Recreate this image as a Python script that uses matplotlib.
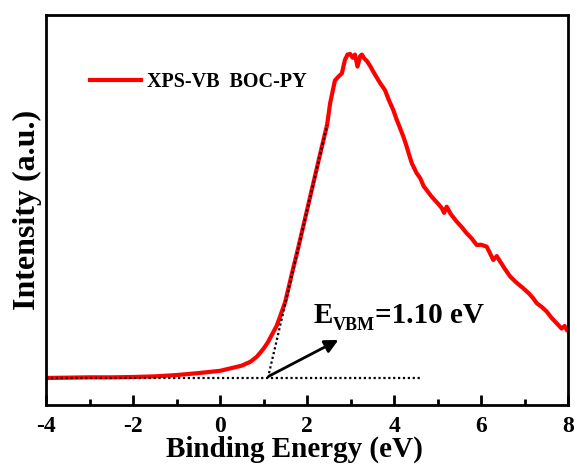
import matplotlib
matplotlib.use("Agg")
import matplotlib.pyplot as plt
from matplotlib.ticker import MultipleLocator
from matplotlib.transforms import offset_copy

plt.rcParams['font.family'] = ['Liberation Serif', 'DejaVu Serif']
plt.rcParams['font.weight'] = 'bold'
plt.rcParams['axes.unicode_minus'] = False

# Binding energy (eV) and intensity (a.u., baseline 0, peak ~100)
energy = [-4.0, -3.5, -3.0, -2.5, -2.0, -1.5, -1.0, -0.5, 0.0, 0.25, 0.5, 0.7, 0.85,
          1.0, 1.1, 1.22, 1.3, 1.38, 1.5, 1.65, 1.8, 1.95, 2.1, 2.25, 2.4, 2.46, 2.53,
          2.64, 2.72, 2.80, 2.87, 2.93, 2.99, 3.05, 3.10, 3.16, 3.22, 3.26, 3.32, 3.37,
          3.45, 3.52, 3.60, 3.68, 3.79, 3.88, 3.98, 4.06, 4.14, 4.22, 4.29, 4.35, 4.41,
          4.52, 4.60, 4.68, 4.75, 4.85, 4.95, 5.02, 5.10, 5.15, 5.21, 5.30, 5.44, 5.55,
          5.67, 5.78, 5.90, 6.00, 6.13, 6.20, 6.28, 6.36, 6.44, 6.55, 6.67, 6.80, 6.97,
          7.10, 7.20, 7.28, 7.40, 7.51, 7.62, 7.74, 7.85, 7.92, 7.97]
intensity = [0.0, 0.1, 0.2, 0.2, 0.3, 0.5, 0.9, 1.5, 2.2, 3.0, 3.8, 5.0, 6.6,
             9.0, 11.0, 14.0, 16.0, 18.9, 23.5, 32.0, 40.2, 48.8, 57.4, 66.0, 74.5, 77.8, 84.5,
             91.5, 92.7, 93.7, 97.8, 99.5, 99.7, 98.5, 99.5, 95.8, 99.0, 99.5, 98.2, 97.6,
             96.0, 94.3, 92.5, 90.7, 88.6, 85.5, 82.5, 79.5, 76.8, 74.0, 71.2, 68.5, 66.0,
             63.0, 61.5, 59.0, 57.8, 56.0, 54.5, 53.5, 52.2, 50.8, 52.7, 50.5, 48.1, 46.5,
             44.5, 43.0, 40.9, 41.0, 40.4, 38.5, 36.3, 37.5, 35.8, 33.5, 31.2, 29.5, 27.6,
             26.0, 24.5, 23.0, 21.8, 20.4, 18.5, 16.8, 15.2, 16.0, 14.8]

# Extrapolation lines
tangent_x = [1.10, 2.46]
tangent_y = [0.0, 77.8]
base_x = [-4.0, 4.6]
base_y = [0.0, 0.0]
arrow_tail = (1.13, 0.6)
arrow_head = (2.72, 11.7)
evbm_parts = ['E', 'VBM', '=1.10 eV']
legend_label = 'XPS-VB  BOC-PY'

fig = plt.figure(figsize=(5.75, 4.66), dpi=100)
ax = fig.add_axes([0.080, 0.131, 0.908, 0.837])

ax.plot(base_x, base_y, color='black', lw=1.6, linestyle=(0, (1, 1.2)), zorder=3)
ax.plot(energy, intensity, color='#ff0000', lw=3.0, label=legend_label, zorder=2)
ax.plot(tangent_x, tangent_y, color='black', lw=1.6, linestyle=(0, (1, 1.2)), zorder=3)

ax.annotate('', xy=arrow_head, xytext=arrow_tail,
            arrowprops=dict(arrowstyle='-|>', lw=2.0, color='black', mutation_scale=20,
                            shrinkA=0, shrinkB=0))

ax.set_xlim(-4, 8)
ax.set_ylim(-8.3, 111.7)
ax.xaxis.set_major_locator(MultipleLocator(2))
ax.xaxis.set_minor_locator(MultipleLocator(1))
ax.set_yticks([])
ax.tick_params(axis='x', which='major', direction='in', length=7, width=2, labelsize=17, pad=8)
ax.tick_params(axis='x', which='minor', direction='in', length=4, width=2)
ax.tick_params(top=False, right=False)
for lab in ax.get_xticklabels():
    lab.set_fontweight('bold')
for s in ax.spines.values():
    s.set_linewidth(2.0)

ax.set_xlabel('Binding Energy (eV)', fontsize=21, fontweight='bold', labelpad=0)
ax.xaxis.set_label_coords(0.475, -0.078)
ax.set_ylabel('Intensity (a.u.)', fontsize=23, fontweight='bold', labelpad=3)

leg = ax.legend(loc='center left', bbox_to_anchor=(0.085, 0.828), frameon=False,
                handlelength=2.5, handletextpad=0.3, borderpad=0, borderaxespad=0,
                prop={'family': 'Liberation Serif', 'weight': 'bold', 'size': 14.5})

# E_VBM label built from pieces (main, subscript, rest)
fig.canvas.draw()
renderer = fig.canvas.get_renderer()
t1 = ax.text(2.14, 17.0, evbm_parts[0], fontsize=21, fontweight='bold', ha='left', va='baseline')
w1 = t1.get_window_extent(renderer).width
t2 = ax.text(2.14, 17.0, evbm_parts[1], fontsize=13, fontweight='bold', ha='left', va='baseline',
             transform=offset_copy(ax.transData, fig=fig, x=w1 * 72 / fig.dpi, y=-5, units='points'))
w2 = t2.get_window_extent(renderer).width
ax.text(2.14, 17.0, evbm_parts[2], fontsize=21, fontweight='bold', ha='left', va='baseline',
        transform=offset_copy(ax.transData, fig=fig, x=(w1 + w2) * 72 / fig.dpi, y=0, units='points'))

fig.savefig('out.png', dpi=100)
